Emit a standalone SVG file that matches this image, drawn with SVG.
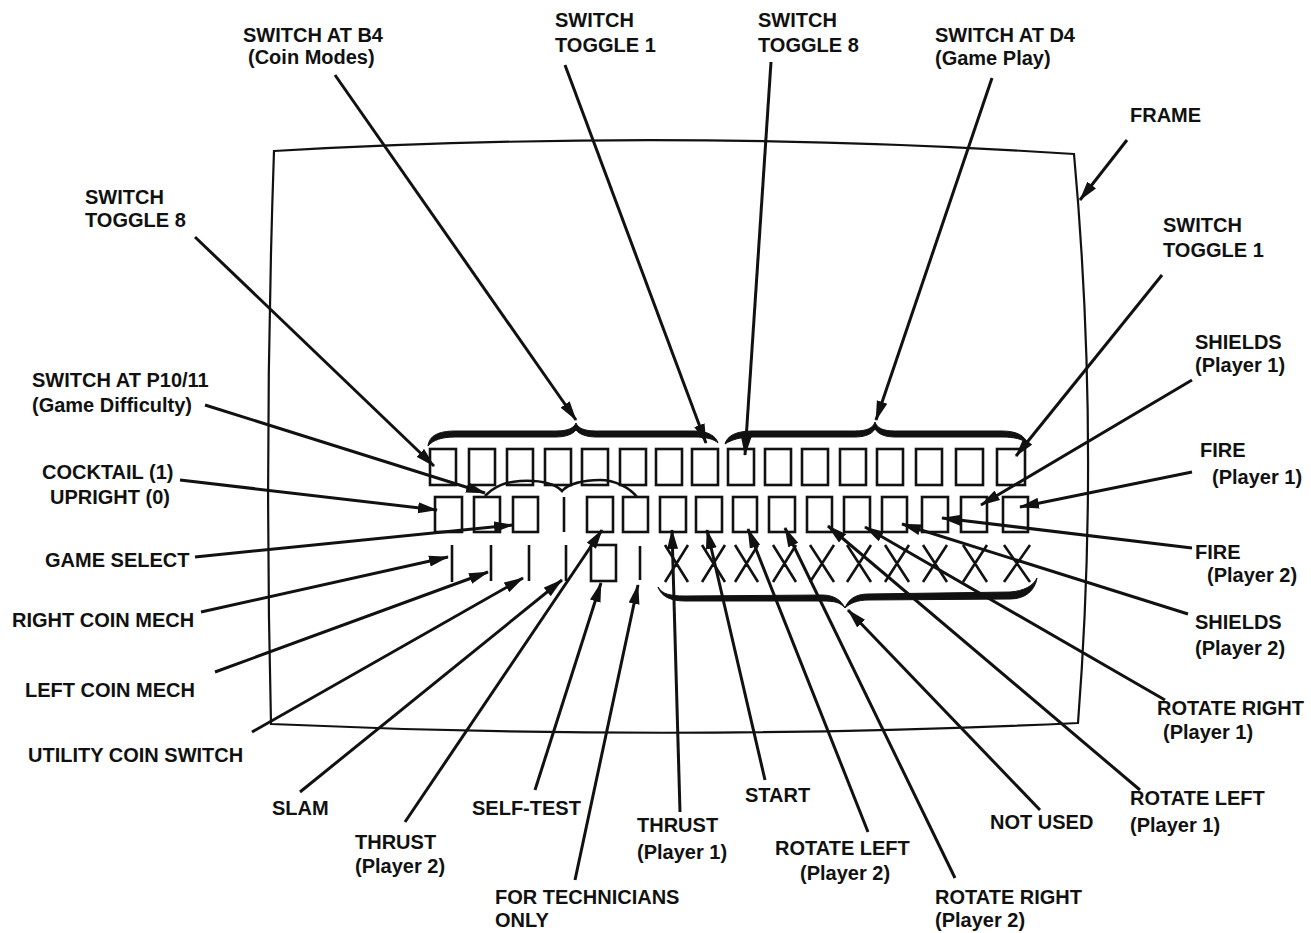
<svg xmlns="http://www.w3.org/2000/svg" width="1311" height="933" viewBox="0 0 1311 933">
<style>
text{font-family:"Liberation Sans",Arial,sans-serif;font-weight:bold;font-size:20px;fill:#111}
.box{fill:none;stroke:#111;stroke-width:2.6}
.ln{stroke:#111;stroke-width:2.6;fill:none}
.con{stroke:#111;stroke-width:3;fill:none;marker-end:url(#ah)}
.brace{fill:#111;stroke:#111;stroke-width:1}
</style>
<defs>
<marker id="ah" markerUnits="userSpaceOnUse" markerWidth="20" markerHeight="12" refX="19" refY="6" orient="auto">
<path d="M0,0.5 L20,6 L0,11.5 Z" fill="#111"/>
</marker>
</defs>
<rect width="1311" height="933" fill="#fff"/>
<g id="frame">
<path d="M274,151 Q674,128 1074,154 Q1100,440 1078,723 Q674,742 271,724 Q264,440 274,151 Z" fill="none" stroke="#111" stroke-width="2.2"/>
</g>
<g id="row1">
<rect class="box" x="430" y="449" width="26" height="36"/>
<rect class="box" x="469" y="449" width="26" height="36"/>
<rect class="box" x="507" y="449" width="26" height="36"/>
<rect class="box" x="545" y="449" width="26" height="36"/>
<rect class="box" x="582" y="449" width="26" height="36"/>
<rect class="box" x="620" y="449" width="26" height="36"/>
<rect class="box" x="656" y="449" width="26" height="36"/>
<rect class="box" x="692" y="449" width="26" height="36"/>
<rect class="box" x="728" y="449" width="26" height="36"/>
<rect class="box" x="765" y="449" width="26" height="36"/>
<rect class="box" x="802" y="449" width="26" height="36"/>
<rect class="box" x="840" y="449" width="26" height="36"/>
<rect class="box" x="877" y="449" width="26" height="36"/>
<rect class="box" x="916" y="449" width="26" height="36"/>
<rect class="box" x="956" y="449" width="27" height="36"/>
<rect class="box" x="997" y="449" width="28" height="36"/>
</g>
<g id="row2">
<rect class="box" x="435" y="497" width="27" height="35"/>
<rect class="box" x="474" y="497" width="26" height="35"/>
<rect class="box" x="513" y="497" width="25" height="35"/>
<line class="ln" x1="564" y1="497" x2="564" y2="532"/>
<rect class="box" x="587" y="497" width="26" height="35"/>
<rect class="box" x="623" y="497" width="25" height="35"/>
<rect class="box" x="660" y="497" width="26" height="35"/>
<rect class="box" x="696" y="497" width="26" height="35"/>
<rect class="box" x="733" y="497" width="24" height="35"/>
<rect class="box" x="769" y="497" width="26" height="35"/>
<rect class="box" x="807" y="497" width="25" height="35"/>
<rect class="box" x="844" y="497" width="26" height="35"/>
<rect class="box" x="882" y="497" width="25" height="35"/>
<rect class="box" x="922" y="497" width="26" height="35"/>
<rect class="box" x="961" y="497" width="26" height="35"/>
<rect class="box" x="1003" y="497" width="25" height="35"/>
</g>
<g id="row3">
<line class="ln" x1="452" y1="545" x2="452" y2="582"/>
<line class="ln" x1="491" y1="545" x2="491" y2="581"/>
<line class="ln" x1="529" y1="545" x2="529" y2="581"/>
<line class="ln" x1="566" y1="545" x2="566" y2="581"/>
<rect class="box" x="591" y="545" width="25" height="36"/>
<line class="ln" x1="640" y1="546" x2="640" y2="580"/>
<path class="ln" d="M665,545 L688,582 M688,545 L665,582 M702,545 L725,582 M725,545 L702,582 M735,545 L758,582 M758,545 L735,582 M773,545 L796,582 M796,545 L773,582 M810,545 L834,582 M834,545 L810,582 M847,545 L871,582 M871,545 L847,582 M885,545 L909,582 M909,545 L885,582 M923,545 L947,582 M947,545 L923,582 M963,545 L987,582 M987,545 L963,582 M1004,545 L1030,582 M1030,545 L1004,582"/>
</g>
<g id="braces">
<path class="brace" d="M428,446 C429,436 438,431 455,431 L556,431 C568,431 574,428 576,423 C578,428 584,431 596,431 L694,431 C708,431 716,436 718,443 C714,439 706,437 694,437 L596,437 C586,437 579,434 576,430 C573,434 566,437 556,437 L455,437 C442,437 433,440 428,446 Z"/>
<path class="brace" d="M725,444 C727,436 736,431 752,431 L855,431 C867,431 873,428 875,422 C877,428 883,431 895,431 L1002,431 C1017,431 1025,436 1027,443 C1022,439 1014,437 1002,437 L895,437 C885,437 878,434 875,429 C872,434 865,437 855,437 L752,437 C740,437 731,440 725,444 Z"/>
<path class="ln" stroke-width="3" d="M485,496 C495,486 505,482 520,481 C540,480 555,484 562,491 C568,484 583,480 600,480 C615,480 630,488 637,497"/>
<path class="brace" d="M658,587 C662,594 670,596 685,596 L822,595 C834,595 841,600 845,608 C848,600 855,594 868,594 L1010,592 C1024,591 1033,586 1037,578 C1035,590 1026,599 1010,599 L868,600 C858,600 850,603 845,608 C840,602 834,601 822,601 L685,601 C670,601 661,596 658,587 Z"/>
</g>
<g id="connectors">
<line class="con" x1="335" y1="75" x2="576" y2="420"/>
<line class="con" x1="565" y1="65" x2="706" y2="443"/>
<line class="con" x1="771" y1="62" x2="745" y2="455"/>
<line class="con" x1="992" y1="78" x2="876" y2="420"/>
<line class="con" x1="1127" y1="140" x2="1080" y2="200"/>
<line class="con" x1="1162" y1="275" x2="1016" y2="456"/>
<line class="con" x1="1192" y1="380" x2="981" y2="505"/>
<line class="con" x1="1192" y1="472" x2="1020" y2="507"/>
<line class="con" x1="1192" y1="548" x2="942" y2="518"/>
<line class="con" x1="1188" y1="614" x2="902" y2="524"/>
<line class="con" x1="1165" y1="700" x2="865" y2="527"/>
<line class="con" x1="1140" y1="790" x2="828" y2="526"/>
<line class="con" x1="1040" y1="810" x2="848" y2="610"/>
<line class="con" x1="955" y1="878" x2="785" y2="528"/>
<line class="con" x1="868" y1="832" x2="748" y2="529"/>
<line class="con" x1="765" y1="780" x2="707" y2="530"/>
<line class="con" x1="680" y1="812" x2="672" y2="530"/>
<line class="con" x1="575" y1="880" x2="638" y2="585"/>
<line class="con" x1="535" y1="790" x2="601" y2="583"/>
<line class="con" x1="405" y1="822" x2="602" y2="530"/>
<line class="con" x1="300" y1="792" x2="562" y2="580"/>
<line class="con" x1="252" y1="732" x2="523" y2="578"/>
<line class="con" x1="215" y1="672" x2="488" y2="572"/>
<line class="con" x1="201" y1="612" x2="448" y2="557"/>
<line class="con" x1="195" y1="557" x2="513" y2="525"/>
<line class="con" x1="180" y1="480" x2="437" y2="510"/>
<line class="con" x1="205" y1="405" x2="485" y2="493"/>
<line class="con" x1="195" y1="237" x2="434" y2="466"/>
</g>
<g id="labels">
<g id="l-b4"><text x="243" y="42">SWITCH AT B4</text><text x="248" y="64">(Coin Modes)</text></g>
<g id="l-t1top"><text x="555" y="27">SWITCH</text><text x="555" y="52">TOGGLE 1</text></g>
<g id="l-t8top"><text x="758" y="27">SWITCH</text><text x="758" y="52">TOGGLE 8</text></g>
<g id="l-d4"><text x="935" y="42">SWITCH AT D4</text><text x="935" y="65">(Game Play)</text></g>
<g id="l-frame"><text x="1130" y="122">FRAME</text></g>
<g id="l-t1right"><text x="1163" y="232">SWITCH</text><text x="1163" y="257">TOGGLE 1</text></g>
<g id="l-t8left"><text x="85" y="204">SWITCH</text><text x="85" y="227">TOGGLE 8</text></g>
<g id="l-sh1"><text x="1195" y="349">SHIELDS</text><text x="1195" y="372">(Player 1)</text></g>
<g id="l-p1011"><text x="32" y="387">SWITCH AT P10/11</text><text x="32" y="412">(Game Difficulty)</text></g>
<g id="l-fire1"><text x="1200" y="457">FIRE</text><text x="1212" y="484">(Player 1)</text></g>
<g id="l-cocktail"><text x="42" y="479">COCKTAIL (1)</text><text x="50" y="504">UPRIGHT (0)</text></g>
<g id="l-gsel"><text x="45" y="567">GAME SELECT</text></g>
<g id="l-fire2"><text x="1195" y="559">FIRE</text><text x="1207" y="582">(Player 2)</text></g>
<g id="l-rcm"><text x="12" y="627">RIGHT COIN MECH</text></g>
<g id="l-sh2"><text x="1195" y="629">SHIELDS</text><text x="1195" y="655">(Player 2)</text></g>
<g id="l-lcm"><text x="25" y="697">LEFT COIN MECH</text></g>
<g id="l-rr1"><text x="1157" y="715">ROTATE RIGHT</text><text x="1163" y="739">(Player 1)</text></g>
<g id="l-ucs"><text x="28" y="762">UTILITY COIN SWITCH</text></g>
<g id="l-start"><text x="745" y="802">START</text></g>
<g id="l-rl1"><text x="1130" y="805">ROTATE LEFT</text><text x="1130" y="832">(Player 1)</text></g>
<g id="l-slam"><text x="272" y="815">SLAM</text></g>
<g id="l-self"><text x="472" y="815">SELF-TEST</text></g>
<g id="l-notused"><text x="990" y="829">NOT USED</text></g>
<g id="l-th1"><text x="637" y="832">THRUST</text><text x="637" y="859">(Player 1)</text></g>
<g id="l-th2"><text x="355" y="849">THRUST</text><text x="355" y="873">(Player 2)</text></g>
<g id="l-rl2"><text x="775" y="855">ROTATE LEFT</text><text x="800" y="880">(Player 2)</text></g>
<g id="l-tech"><text x="495" y="904">FOR TECHNICIANS</text><text x="495" y="927">ONLY</text></g>
<g id="l-rr2"><text x="935" y="904">ROTATE RIGHT</text><text x="935" y="927">(Player 2)</text></g>
</g>
</svg>
